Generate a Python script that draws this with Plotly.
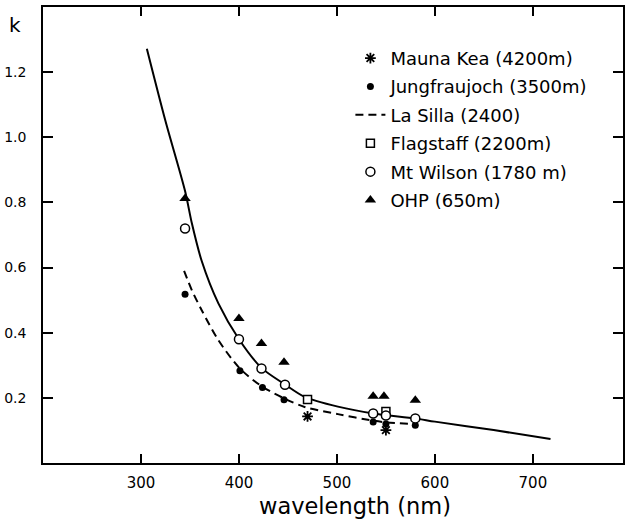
import plotly.graph_objects as go

# ---- data ----
mk_x = [470, 550]
mk_k = [0.143, 0.101]

jf_x = [345, 401, 424, 446, 537, 550, 580]
jf_k = [0.518, 0.283, 0.232, 0.194, 0.126, 0.120, 0.116]

ls_x = [344, 352, 362, 379, 401, 423, 445, 467, 501, 537, 550, 582]
ls_k = [0.590, 0.530, 0.469, 0.377, 0.290, 0.236, 0.200, 0.172, 0.150, 0.130, 0.125, 0.119]

fs_x = [470, 550]
fs_k = [0.195, 0.158]

mw_x = [345, 400, 423, 447, 537, 550, 580]
mw_k = [0.720, 0.380, 0.290, 0.240, 0.152, 0.146, 0.137]

ohp_x = [345, 400, 423, 446, 537, 548, 580]
ohp_k = [0.812, 0.444, 0.367, 0.309, 0.205, 0.205, 0.193]

fit_x = [306, 325, 345, 352, 362, 379, 400, 423, 447, 467, 501, 537, 580, 600, 660, 718]
fit_k = [1.272, 1.050, 0.835, 0.735, 0.620, 0.490, 0.380, 0.292, 0.241, 0.203, 0.173, 0.152, 0.137, 0.127, 0.101, 0.074]

names = ["Mauna Kea (4200m)", "Jungfraujoch (3500m)", "La Silla (2400)",
         "Flagstaff (2200m)", "Mt Wilson (1780 m)", "OHP (650m)"]

x_ticks = [300, 400, 500, 600, 700]
y_ticks = [0.2, 0.4, 0.6, 0.8, 1.0, 1.2]

FONT = "DejaVu Sans"
fig = go.Figure()

# fitted curves
fig.add_trace(go.Scatter(x=fit_x, y=fit_k, mode="lines", showlegend=False,
                         line=dict(color="black", width=2, shape="spline", smoothing=0.8)))
fig.add_trace(go.Scatter(x=ls_x, y=ls_k, mode="lines", name=names[2], legendrank=3,
                         legendgroup="g3",
                         line=dict(color="black", width=2, dash="8px,5px",
                                   shape="spline", smoothing=0.8)))

fig.add_trace(go.Scatter(x=mk_x, y=mk_k, mode="markers", name=names[0], legendrank=1,
                         legendgroup="g1",
                         marker=dict(symbol="asterisk-open", size=9, color="black",
                                     line=dict(color="black", width=1.8))))
fig.add_trace(go.Scatter(x=jf_x, y=jf_k, mode="markers", name=names[1], legendrank=2,
                         legendgroup="g2",
                         marker=dict(symbol="circle", size=7, color="black")))
fig.add_trace(go.Scatter(x=fs_x, y=fs_k, mode="markers", name=names[3], legendrank=4,
                         legendgroup="g4",
                         marker=dict(symbol="square", size=8, color="white",
                                     line=dict(color="black", width=1.5))))
fig.add_trace(go.Scatter(x=mw_x, y=mw_k, mode="markers", name=names[4], legendrank=5,
                         legendgroup="g5",
                         marker=dict(symbol="circle", size=9, color="white",
                                     line=dict(color="black", width=1.5))))
fig.add_trace(go.Scatter(x=ohp_x, y=ohp_k, mode="markers", name=names[5], legendrank=6,
                         legendgroup="g6",
                         marker=dict(symbol="triangle-up", size=10, color="black")))

fig.update_layout(
    width=625, height=519,
    margin=dict(l=43, r=0, t=7, b=56),
    paper_bgcolor="white", plot_bgcolor="white",
    font=dict(family=FONT, color="black", size=14),
    legend=dict(x=0.530, y=0.928, xanchor="left", yanchor="top",
                font=dict(family=FONT, size=18, color="black"),
                bgcolor="rgba(0,0,0,0)", tracegroupgap=2),
    showlegend=True,
)
fig.update_xaxes(range=[200, 792], tickvals=x_ticks, ticks="inside", ticklen=9,
                 tickwidth=1.5, tickcolor="black", showline=True, linecolor="black",
                 linewidth=1.5, mirror="ticks", showgrid=False, zeroline=False,
                 ticklabelstandoff=5, tickfont=dict(size=15))
fig.update_yaxes(range=[0, 1.4], tickvals=y_ticks, tickformat=".1f", ticks="inside",
                 ticklen=10, tickwidth=1.5, tickcolor="black", showline=True,
                 linecolor="black", linewidth=1.5, mirror="ticks", showgrid=False,
                 zeroline=False, ticklabelstandoff=12, tickfont=dict(size=14))

fig.add_annotation(text="wavelength (nm)", xref="paper", yref="paper",
                   x=(356 - 43) / 582, y=-(506 - 463) / 456, xanchor="center",
                   yanchor="middle", showarrow=False,
                   font=dict(family=FONT, size=22.5, color="black"))
fig.add_annotation(text="k", xref="paper", yref="paper",
                   x=-(43 - 15) / 582, y=1 - (25 - 7) / 456, xanchor="center",
                   yanchor="middle", showarrow=False,
                   font=dict(family=FONT, size=20, color="black"))

fig.write_html("out.html", config={"displayModeBar": False},
               post_script="document.body.style.margin='0';"
                           "document.body.style.overflow='hidden';")
